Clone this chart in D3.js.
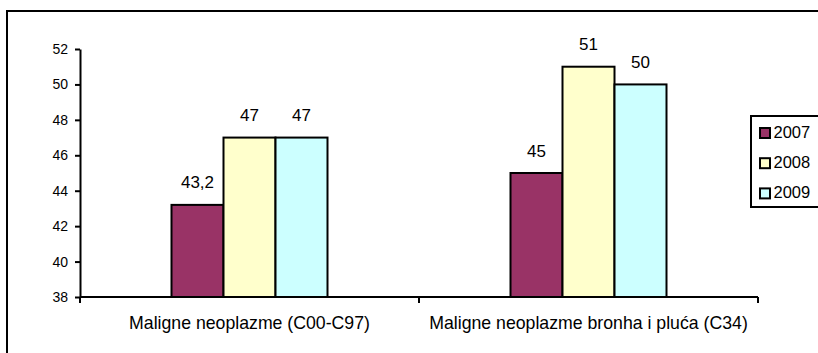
<!DOCTYPE html>
<html><head><meta charset="utf-8">
<script src="https://cdn.jsdelivr.net/npm/d3@7"></script>
<style>body{margin:0;background:#fff}svg{display:block;font-family:"Liberation Sans",Arial,sans-serif}</style>
</head><body><svg id="c" width="818" height="353"></svg>
<script>
const categories = ["Maligne neoplazme (C00-C97)", "Maligne neoplazme bronha i pluća (C34)"];
const years = ["2007", "2008", "2009"];
const values2007 = [43.2, 45];
const values2008 = [47, 51];
const values2009 = [47, 50];
const valueLabels2007 = ["43,2", "45"];
const valueLabels2008 = ["47", "51"];
const valueLabels2009 = ["47", "50"];
const yTicks = [38, 40, 42, 44, 46, 48, 50, 52];
const colors = ["#993366", "#FFFFCC", "#CCFFFF"];

const series = [
  {year: years[0], values: values2007, labels: valueLabels2007, color: colors[0]},
  {year: years[1], values: values2008, labels: valueLabels2008, color: colors[1]},
  {year: years[2], values: values2009, labels: valueLabels2009, color: colors[2]}
];

const svg = d3.select("#c");
// outer frame
svg.append("rect").attr("x", 7).attr("y", 11).attr("width", 830).attr("height", 360)
  .attr("fill", "none").attr("stroke", "#000").attr("stroke-width", 2);

const L = 80, R = 758, T = 49, B = 297;
const y = d3.scaleLinear().domain([38, 52]).range([B, T]);
const x0 = d3.scaleBand().domain(categories).range([L, R]).padding(0);
const bw = 52;
const x1 = d3.scaleBand().domain(years).range([0, bw * 3]).padding(0);

// bars
const g = svg.append("g");
series.forEach(s => {
  categories.forEach((c, i) => {
    const xs = x0(c) + (x0.bandwidth() - bw * 3) / 2 + x1(s.year);
    g.append("rect").attr("x", xs).attr("y", y(s.values[i]))
      .attr("width", bw).attr("height", y(38) - y(s.values[i]))
      .attr("fill", s.color).attr("stroke", "#000").attr("stroke-width", 2);
    g.append("text").attr("x", xs + bw / 2).attr("y", y(s.values[i]) - 16.5)
      .attr("text-anchor", "middle").attr("font-size", 17).text(s.labels[i]);
  });
});

// y axis
const ya = svg.append("g").attr("transform", `translate(${L},0)`)
  .call(d3.axisLeft(y).tickValues(yTicks).tickSize(5).tickSizeOuter(0).tickFormat(d3.format("d")));
ya.selectAll("path,line").attr("stroke", "#000").attr("stroke-width", 2);
ya.selectAll("text").attr("font-size", 14).attr("font-family", "Liberation Sans, Arial, sans-serif").attr("fill", "#000").attr("x", -12);

// x axis
const xa = svg.append("g").attr("transform", `translate(0,${B})`);
xa.append("line").attr("x1", L).attr("x2", R).attr("stroke", "#000").attr("stroke-width", 2);
const bounds = [L, ...categories.map(c => x0(c) + x0.bandwidth())];
bounds.forEach(b => xa.append("line").attr("x1", b).attr("x2", b).attr("y1", 0).attr("y2", 6).attr("stroke", "#000").attr("stroke-width", 2));
categories.forEach(c => xa.append("text").attr("x", x0(c) + x0.bandwidth() / 2).attr("y", 32)
  .attr("text-anchor", "middle").attr("font-size", 17.7).text(c));

// legend
const lg = svg.append("g");
lg.append("rect").attr("x", 751).attr("y", 116).attr("width", 80).attr("height", 91)
  .attr("fill", "#fff").attr("stroke", "#000").attr("stroke-width", 2);
series.forEach((s, i) => {
  const base = 137.5 + i * 30.2;
  lg.append("rect").attr("x", 760).attr("y", base - 9.5).attr("width", 10).attr("height", 10)
    .attr("fill", s.color).attr("stroke", "#000").attr("stroke-width", 2);
  lg.append("text").attr("x", 773.5).attr("y", base).attr("font-size", 16.5).text(s.year);
});
</script></body></html>
